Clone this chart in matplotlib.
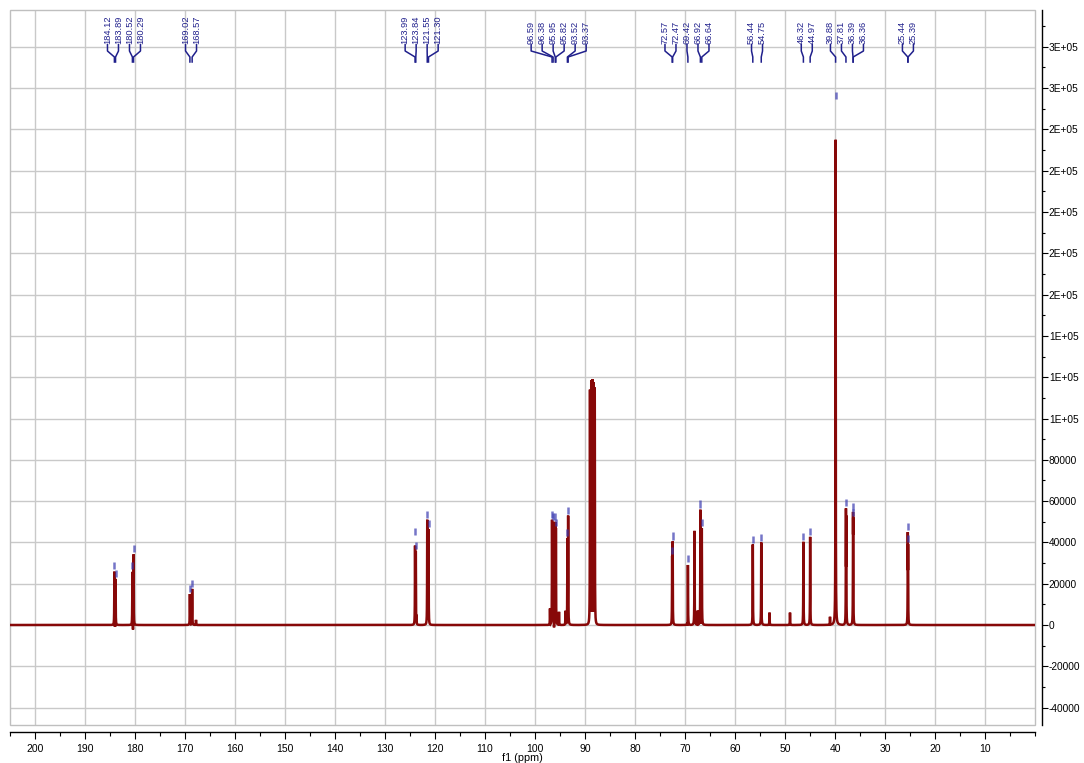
import numpy as np
import matplotlib
matplotlib.use("Agg")
import matplotlib.pyplot as plt
from matplotlib.ticker import MultipleLocator, FuncFormatter, FixedLocator
from matplotlib.patches import Rectangle
import matplotlib.transforms as mtransforms

# ---------------- data ----------------
peak_ppm = [184.12, 183.89, 180.52, 180.29, 169.02, 168.57, 123.99, 123.84, 121.55, 121.30,
            96.59, 96.38, 95.95, 95.82, 93.52, 93.37, 72.57, 72.47, 69.42, 66.92, 66.64,
            56.44, 54.75, 46.32, 44.97, 39.88, 37.81, 36.39, 36.36, 25.44, 25.39]
peak_height = [26000, 22500, 26000, 34500, 15000, 17500, 42500, 36000, 51000, 46500,
               51000, 50000, 50000, 47000, 42000, 53000, 33500, 40500, 29500, 56000, 47000,
               39000, 40000, 40300, 42700, 235000, 56500, 54800, 52000, 45000, 39200]
pick_height = [26000, 22500, 26000, 34500, 15000, 17500, 42500, 36000, 51000, 46500,
               51000, 50000, 50000, 47000, 42000, 53000, 33500, 40500, 29500, 56000, 47000,
               39000, 40000, 40300, 42700, 254000, 56500, 54800, 52000, 45000, 39200]

other_ppm = [167.8, 123.7, 97.0, 95.2, 93.9, 89.0, 88.75, 88.5, 88.25, 88.05,
             68.1, 67.45, 53.1, 49.0, 41.0, 37.75]
other_height = [2500, 5000, 8000, 6400, 6900, 114000, 118500, 119000, 117500, 115000,
                45600, 7000, 6000, 6000, 4000, 53000]

dip_ppm = [184.0, 180.4, 124.0, 96.2, 69.5, 66.8]
dip_depth = [-2500, -4500, -4500, -2500, -3500, -2500]

x_ticks = [200, 190, 180, 170, 160, 150, 140, 130, 120, 110, 100, 90, 80, 70, 60, 50, 40, 30, 20, 10]
y_ticks = [-40000, -20000, 0, 20000, 40000, 60000, 80000, 100000, 120000, 140000, 160000,
           180000, 200000, 220000, 240000, 260000, 280000]

# ---------------- figure ----------------
W, H = 1084, 763
fig = plt.figure(figsize=(W / 100, H / 100), dpi=100)
ax_left, ax_right, ax_top, ax_bot = 10, 1035, 10, 725
ax = fig.add_axes([ax_left / W, 1 - ax_bot / H, (ax_right - ax_left) / W, (ax_bot - ax_top) / H])

XMAX, XMIN = 205.0, 0.0
ax.set_xlim(XMAX, XMIN)
ax.set_ylim(-48430, 297840)

# spectrum built from the peak list
xs = np.linspace(XMAX, XMIN, 41001)
hw = 0.03
env = np.zeros_like(xs)
for p, h in zip(peak_ppm + other_ppm, peak_height + other_height):
    env = np.maximum(env, h * hw ** 2 / ((xs - p) ** 2 + hw ** 2))
for p, d in zip(dip_ppm, dip_depth):
    env = env + d * hw ** 2 / ((xs - p) ** 2 + hw ** 2)
ax.plot(xs, env, color="#870808", lw=1.8, zorder=3, solid_joinstyle="miter")

# peak-pick markers
ph = np.array(pick_height)
ax.vlines(peak_ppm, ph + 900, ph + 4300, colors="#3b3bb0", alpha=0.7, lw=1.8, zorder=4)

# grid and frame
ax.set_axisbelow(True)
ax.xaxis.set_major_locator(FixedLocator(x_ticks))
ax.xaxis.set_minor_locator(MultipleLocator(5))
ax.yaxis.set_major_locator(FixedLocator(y_ticks))
ax.yaxis.set_minor_locator(MultipleLocator(10000))
ax.grid(which="major", color="#c9c9c9", lw=1.0)

def yfmt(v, pos):
    if abs(v) >= 100000:
        return f"{v:.0E}"
    return f"{int(round(v))}"
ax.yaxis.set_major_formatter(FuncFormatter(yfmt))
ax.xaxis.set_major_formatter(FuncFormatter(lambda v, p: f"{int(round(v))}"))

ax.yaxis.tick_right()
for s in ("left", "top"):
    ax.spines[s].set_visible(False)
ax.spines["right"].set_position(("outward", 5))
ax.spines["bottom"].set_position(("outward", 5))
ax.spines["right"].set_linewidth(1.0)
ax.spines["bottom"].set_linewidth(1.0)
ax.add_patch(Rectangle((0, 0), 1, 1, transform=ax.transAxes, fill=False,
                       ec="#bfbfbf", lw=1.0, clip_on=False, zorder=1))

ax.tick_params(axis="y", which="major", direction="out", length=4, width=0.8, pad=1,
               labelsize=7.3, labelfontfamily="Liberation Sans")
ax.tick_params(axis="y", which="minor", direction="out", length=2.5, width=0.8)
ax.tick_params(axis="x", which="major", direction="out", length=5, width=0.8, pad=4,
               labelsize=7.5, labelfontfamily="Liberation Sans")
ax.tick_params(axis="x", which="minor", direction="out", length=3, width=0.8)
ax.set_xlabel("f1 (ppm)", fontsize=7.8, family="Liberation Sans", labelpad=-1)

# ---------------- peak labels ----------------
px_per_ppm = (ax_right - ax_left) / (XMAX - XMIN)
gap = 11.0 / px_per_ppm  # minimum label spacing in ppm
u = [-p for p in peak_ppm]  # left-to-right coordinate
groups = [[i] for i in range(len(u))]

def positions(g):
    c = np.mean([u[i] for i in g])
    n = len(g)
    return [c + (k - (n - 1) / 2) * gap for k in range(n)]

merged = True
while merged:
    merged = False
    for gi in range(len(groups) - 1):
        if positions(groups[gi])[-1] + gap > positions(groups[gi + 1])[0]:
            groups[gi] = groups[gi] + groups[gi + 1]
            del groups[gi + 1]
            merged = True
            break

label_x = [0.0] * len(u)
for g in groups:
    for i, pu in zip(g, positions(g)):
        label_x[i] = -pu

def yf(pix):
    return (ax_bot - pix) / (ax_bot - ax_top)

blend = mtransforms.blended_transform_factory(ax.transData, ax.transAxes)
lab_col = "#20208c"
for p, lx in zip(peak_ppm, label_x):
    ax.text(lx, yf(43.5), f"{p:.2f}", rotation=90, ha="center", va="bottom",
            transform=blend, fontsize=6.7, family="Liberation Sans", color=lab_col, zorder=5)
    ax.plot([lx, lx, p, p], [yf(44.5), yf(51), yf(57), yf(62)], transform=blend,
            color=lab_col, lw=1.1, zorder=5, clip_on=False)

fig.savefig("out.png", dpi=100)
